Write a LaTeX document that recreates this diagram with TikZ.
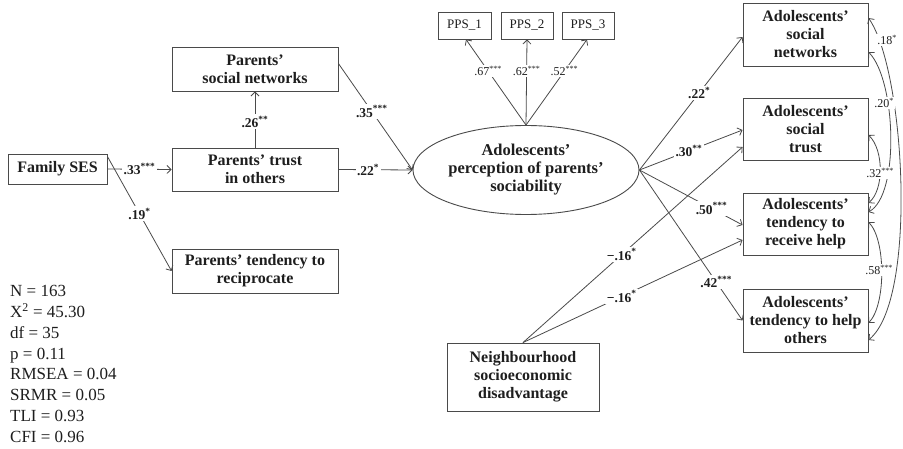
\documentclass[tikz,border=0pt]{standalone}
\usepackage{fontspec}
\setmainfont{Liberation Serif}
\usetikzlibrary{arrows.meta,calc,shapes.geometric}
\definecolor{lc}{HTML}{4A4A4A}
\definecolor{tc}{HTML}{1E1E1E}
\newcommand\sg[1]{\textsuperscript{#1}}
\begin{document}
\begin{tikzpicture}[x=1pt,y=-1pt,
  bx/.style={draw=lc, line width=0.9pt, rectangle, align=center, inner sep=0pt,
    font=\fontsize{16}{18}\selectfont\bfseries, text=tc},
  pbx/.style={draw=lc, line width=0.9pt, rectangle, inner sep=0pt,
    minimum width=53pt, minimum height=27pt, font=\fontsize{13}{15}\selectfont, text=tc},
  ar/.style={draw=lc, line width=0.8pt, -{Straight Barb[length=4pt,width=8pt]}},
  cov/.style={draw=lc, line width=0.8pt,
    {Straight Barb[length=4pt,width=8pt]}-{Straight Barb[length=4pt,width=8pt]}},
  lab/.style={fill=white, inner sep=1.5pt, font=\fontsize{13.5}{15}\selectfont\bfseries, text=tc},
  slab/.style={fill=white, inner sep=1pt, font=\fontsize{12}{14}\selectfont, text=tc},
  stat/.style={anchor=base west, inner sep=0pt, font=\fontsize{17}{20}\selectfont, text=tc}]
\useasboundingbox (0,0) rectangle (903,449);
\fill[white] (0,0) rectangle (903,449);

% nodes
\node[bx, minimum width=99pt, minimum height=30pt] (fam) at (57.5,169) {Family SES};
\node[bx, minimum width=166pt, minimum height=44pt] (psn) at (255,69) {Parents’\\social networks};
\node[bx, minimum width=166pt, minimum height=43pt] (pto) at (255,169.5) {Parents’ trust\\in others};
\node[bx, minimum width=166pt, minimum height=44pt] (ptr) at (255,271) {Parents’ tendency to\\reciprocate};
\node[pbx] (pps1) at (464.5,25.5) {PPS\_1};
\node[pbx, minimum width=52pt] (pps2) at (527,25.5) {PPS\_2};
\node[pbx, minimum width=52pt] (pps3) at (588,25.5) {PPS\_3};
\node[draw=lc, line width=0.9pt, ellipse, minimum width=226pt, minimum height=89pt, inner sep=0pt,
  align=center, font=\fontsize{16.5}{18}\selectfont\bfseries, text=tc] (ell) at (526,170)
  {Adolescents’\\perception of parents’\\sociability};
\node[bx, minimum width=125pt, minimum height=63pt] (asn) at (805.5,34.5) {Adolescents’\\social\\networks};
\node[bx, minimum width=125pt, minimum height=62pt] (ast) at (805.5,129) {Adolescents’\\social\\trust};
\node[bx, minimum width=125pt, minimum height=62pt] (arh) at (805.5,224) {Adolescents’\\tendency to\\receive help};
\node[bx, minimum width=125pt, minimum height=63pt] (aho) at (805.5,320.5) {Adolescents’\\tendency to help\\others};
\node[bx, minimum width=152pt, minimum height=68pt] (nbh) at (523,377) {Neighbourhood\\socioeconomic\\disadvantage};

% left paths
\draw[ar] (fam.east) -- node[lab]{.33\sg{***}} (pto.west);
\draw[ar] ($(fam.north east)+(0,3)$) -- node[lab,pos=0.5]{.19\sg{*}} (ptr.west);
\draw[ar] (pto.north) -- node[lab,pos=0.46]{.26\sg{**}} (psn.south);
\draw[ar] ($(psn.north east)+(0,17)$) -- node[lab,pos=0.45]{.35\sg{***}} (ell.west);
\draw[ar] (pto.east) -- node[lab,pos=0.4]{.22\sg{*}} (ell.west);

% loadings
\draw[ar] (ell.north) -- node[slab,pos=0.63]{.67\sg{***}} ($(pps1.south)+(1.5,0)$);
\draw[ar] (ell.north) -- node[slab,pos=0.63]{.62\sg{***}} (pps2.south);
\draw[ar] (ell.north) -- node[slab,pos=0.63]{.52\sg{***}} ($(pps3.south)+(-1,0)$);

% outcomes
\draw[ar] (ell.east) -- node[lab,pos=0.58]{.22\sg{*}} ($(asn.west)+(0,2.5)$);
\draw[ar] (ell.east) -- node[lab,pos=0.48]{.30\sg{**}} ($(ast.west)+(0,1)$);
\draw[ar] (ell.east) -- node[lab,pos=0.7]{.50\sg{***}} ($(arh.west)+(0,1)$);
\draw[ar] (ell.east) -- node[lab,pos=0.745]{.42\sg{***}} (aho.west);
\draw[ar] (nbh.north) -- node[lab,pos=0.45]{−.16\sg{*}} ($(ast.west)+(0,18)$);
\draw[ar] (nbh.north) -- node[lab,pos=0.45]{−.16\sg{*}} ($(arh.west)+(0,16)$);

% covariances
\draw[cov] ($(asn.east)+(0,-16.5)$) .. controls (905,70) and (918,300) .. ($(aho.east)+(0,19.5)$);
\draw[cov] ($(asn.east)+(0,17.5)$) .. controls (896,80) and (900,195) .. ($(arh.east)+(0,-12)$);
\draw[cov] ($(ast.east)+(0,6)$) .. controls (884,150) and (884,190) .. ($(arh.east)+(0,-21)$);
\draw[cov] ($(arh.east)+(0,-2)$) .. controls (886,240) and (886,305) .. ($(aho.east)+(0,2.5)$);
\node[slab] (c18) at (887,40) {.18\sg{*}};
\node[slab] (c20) at (884,103) {.20\sg{*}};
\node[slab] (c32) at (880,173) {.32\sg{***}};
\node[slab] (c58) at (879,270) {.58\sg{***}};

% fit statistics
\node[stat] (s1) at (10,297) {N = 163};
\node[stat] (s2) at (10,317.7) {X\textsuperscript{2} = 45.30};
\node[stat] (s3) at (10,338.4) {df = 35};
\node[stat] (s4) at (10,359.1) {p = 0.11};
\node[stat] (s5) at (10,379.8) {RMSEA = 0.04};
\node[stat] (s6) at (10,400.5) {SRMR = 0.05};
\node[stat] (s7) at (10,421.2) {TLI = 0.93};
\node[stat] (s8) at (10,442) {CFI = 0.96};
\end{tikzpicture}
\end{document}
